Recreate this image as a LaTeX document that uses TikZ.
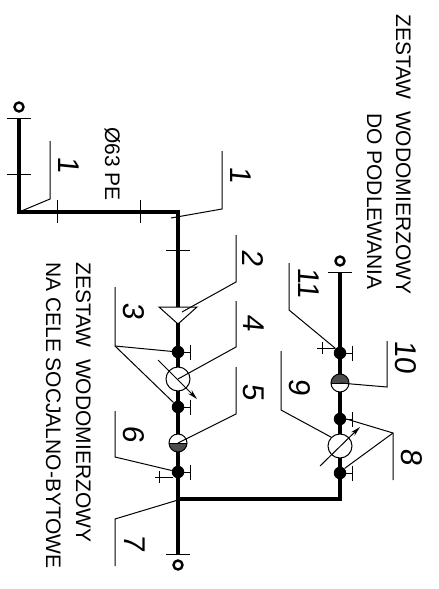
\documentclass[tikz,border=0pt]{standalone}
\usepackage{fontspec}
\setmainfont{Liberation Sans}
\newfontfamily\tagfont[FakeSlant=0.1]{Liberation Sans}
\usetikzlibrary{
  arrows.meta,
  calc
}
\definecolor{darkValve}{rgb}{0.3,0.3,0.3}
\tikzset{
  pipe/.style={line width=3.7pt},
  leader/.style={line width=1pt},
  stopbar/.style={line width=1pt},
  gate/.style={circle, fill=black, inner sep=0pt, minimum size=12.5pt},
  meter/.style={circle, draw, line width=1pt, fill=white, inner sep=0pt, minimum size=24pt},
  endcap/.style={circle, draw, line width=2.4pt, fill=white, inner sep=0pt, minimum size=9pt},
  lowhalf/.style={circle, draw, line width=1pt, fill=white, inner sep=0pt, minimum size=18pt,
    path picture={\fill[darkValve] (path picture bounding box.west) rectangle (path picture bounding box.south east);
      \draw[line width=1pt] (path picture bounding box.west) -- (path picture bounding box.east);}},
  highhalf/.style={circle, draw, line width=1pt, fill=white, inner sep=0pt, minimum size=18pt,
    path picture={\fill[darkValve] (path picture bounding box.west) rectangle (path picture bounding box.north east);
      \draw[line width=1pt] (path picture bounding box.west) -- (path picture bounding box.east);}},
  tag/.style={rotate=-90, font=\tagfont\fontsize{30}{30}\selectfont, inner sep=0pt},
  caption/.style={rotate=-90, anchor=base west, font=\fontsize{21}{21}\selectfont, inner sep=0pt}
}
\begin{document}
\begin{tikzpicture}[x=1pt, y=-1pt]
  \useasboundingbox (0,0) rectangle (439,589);

  % points on the pipes and the free ends of the leaders
  \foreach \n/\x/\y in {start/19/118, elbow/19/212, tee/178/212, split/178/499, endA/178/554,
    corner/340/499, endB/340/272,
    a1/50/141, b1/50/199, c1/19/212,
    a2/222/151, b2/222/209, c2/171/218,
    a3/236/235, b3/236/282, c3/182/312,
    a4/115/287, b4/115/346,
    a5/236/301, b5/236/347,
    a6/236/367, b6/236/414,
    a7/115/411, b7/115/457,
    a8/115/566, b8/115/519, c8/178/500,
    a9/393/480, b9/393/433,
    a10/281/351, b10/281/410,
    a11/387/341, b11/387/387,
    a12/289/263, b12/289/310}{
    \coordinate (\n) at (\x,\y);
  }

  \draw[pipe] (start) -- (elbow) -- (tee) -- (endA);
  \draw[pipe] (split) -- (corner) -- (endB);

  % reducer
  \draw[leader, fill=white] (159,307) -- (197,307) -- (178,324) -- cycle;

  \node[gate] (g1) at (178,352) {};
  \node[gate] (g2) at (178,407) {};
  \node[gate] (g3) at (178,472) {};
  \node[gate] (g4) at (340,353) {};
  \node[gate] (g5) at (340,419) {};
  \node[gate] (g6) at (340,473) {};

  \node[meter] (m1) at (178,379) {};
  \node[meter] (m2) at (340,446) {};
  \node[lowhalf] (v1) at (178,443) {};
  \node[highhalf] (v2) at (340,383) {};

  \node[endcap] (e1) at (19,107) {};
  \node[endcap] (e2) at (178,565) {};
  \node[endcap] (e3) at (340,261) {};

  % meter arrows
  \draw[leader, -{Stealth[length=10pt,width=5pt,open]}] ($(m1)+(-20,-19)$) -- ($(m1)+(19,20)$);
  \draw[leader, -{Stealth[length=10pt,width=5pt,open]}] ($(m2)+(-20,20)$) -- ($(m2)+(20,-19)$);

  % T stops at the gates
  \foreach \g in {g1,g2,g3,g4,g5,g6}{
    \draw[stopbar] (\g.center) -- ++(12,0) ++(0,-7.5) -- ++(0,15);
  }

  % crossing marks
  \foreach \x/\y in {19/118, 19/174, 178/250, 178/554, 340/272}{
    \draw[stopbar] (\x-12,\y) -- (\x+12,\y);
  }
  \foreach \x in {57,140}{
    \draw[stopbar] (\x,200) -- (\x,223);
  }
  \draw[stopbar] (155,477) -- (173,477) (159,471) -- (159,483);
  \draw[stopbar] (317,348) -- (335,348) (322,342) -- (322,354);

  % leaders
  \foreach \a/\b/\c in {a1/b1/c1, a2/b2/c2, a3/b3/c3, a7/b7/g3, a8/b8/c8,
    a11/b11/v2.center, a12/b12/g4.north west}{
    \draw[leader] (\a) -- (\b) -- (\c);
  }
  \draw[leader] (a4) -- (b4) -- (g1.center);
  \draw[leader] (b4) -- (g2.north west);
  \draw[leader] (a5) -- (b5) -- (m1.center);
  \draw[leader] (a6) -- (b6) -- (v1.center);
  \draw[leader] (a9) -- (b9) -- (g5.east);
  \draw[leader] (b9) -- (g6.north east);
  \draw[leader] (a10) -- (b10) -- (m2.north west);

  % numbers
  \foreach \n/\x/\y/\t in {t1/69/165/1, t2/241/175/1, t3/253/258/2, t4/134/311/3, t5/254/323/4,
    t6/254/392/5, t7/134/434/6, t8/135/543/7, t9/412/457/8, t10/300/387/9, t11/406/357/10,
    t12/309/283/11}{
    \node[tag] (\n) at (\x,\y) {\t};
  }

  % captions sit on their base lines
  \node[caption] (otitle) at (396,14) {ZESTAW\ \ WODOMIERZOWY};
  \node[caption] (osub) at (367,113) {DO PODLEWANIA};
  \node[caption] (ztitle) at (76,262) {ZESTAW\ \ WODOMIERZOWY};
  \node[caption] (zsub) at (46,262) {NA CELE SOCJALNO-BYTOWE};
  \node[caption] (dia) at (105,127) {Ø63 PE};
\end{tikzpicture}
\end{document}
